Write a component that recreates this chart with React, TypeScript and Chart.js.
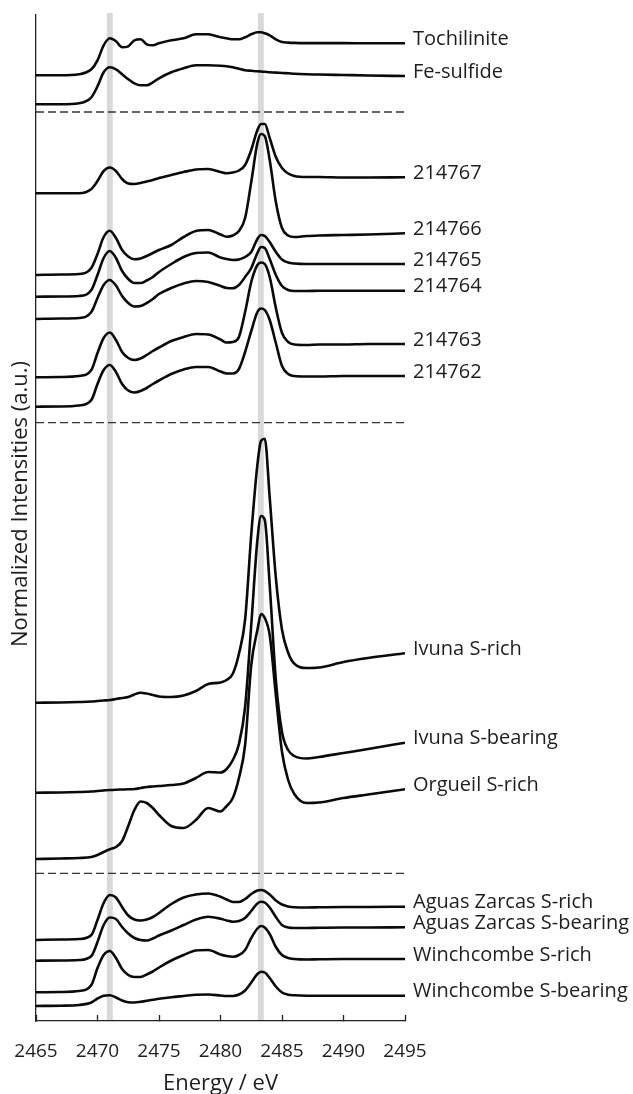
import { useEffect, useRef } from "react";
import { Chart, registerables } from "chart.js";

Chart.register(...registerables);

// Photon energy grid (eV) shared by every spectrum
const energies = [
  2465, 2467, 2468.5, 2469.5, 2470, 2470.5, 2471, 2471.5, 2472, 2472.5, 2473, 2473.5, 2474, 2474.5,
  2475, 2476, 2477, 2478, 2479, 2480, 2480.5, 2481, 2481.5, 2482, 2482.5, 2483, 2483.3, 2483.6,
  2484, 2484.5, 2485, 2485.5, 2486, 2487, 2488, 2490, 2492, 2495,
];

// Normalized intensities (a.u.) relative to each spectrum's own pre-edge baseline
const tochilinite = [0, 0, 0.1, 0.6, 1.5, 3.0, 3.7, 3.4, 2.8, 2.9, 3.5, 3.6, 3.1, 3.0, 3.2, 3.5, 3.7, 4.1, 4.1, 3.8, 3.7, 3.6, 3.6, 3.8, 4.1, 4.3, 4.3, 4.2, 4.0, 3.6, 3.33, 3.27, 3.24, 3.22, 3.22, 3.22, 3.2, 3.2];
const feSulfide = [0, 0, 0.1, 0.7, 1.8, 3.2, 3.7, 3.5, 3.0, 2.5, 2.1, 1.9, 1.9, 2.2, 2.6, 3.2, 3.6, 3.9, 3.9, 3.85, 3.8, 3.7, 3.55, 3.4, 3.35, 3.3, 3.28, 3.25, 3.2, 3.17, 3.13, 3.1, 3.05, 3.0, 2.98, 2.93, 2.88, 2.83];
const s214767 = [0, 0, 0, 0.43, 1.23, 2.23, 2.58, 2.23, 1.43, 0.98, 0.93, 1.03, 1.18, 1.33, 1.53, 1.83, 2.13, 2.38, 2.43, 2.13, 2.0, 2.08, 2.28, 2.83, 4.33, 6.33, 6.93, 6.93, 5.53, 3.63, 2.53, 1.98, 1.73, 1.63, 1.63, 1.58, 1.58, 1.6];
const s214766 = [0, 0.05, 0.1, 0.7, 2.1, 3.8, 4.43, 3.7, 2.5, 1.85, 1.57, 1.65, 1.9, 2.2, 2.5, 3.0, 3.8, 4.4, 4.5, 4.05, 3.83, 3.95, 4.4, 5.7, 9.3, 13.2, 14.1, 13.9, 11.5, 7.3, 4.7, 3.95, 3.8, 3.9, 3.95, 4.0, 4.05, 4.17];
const s214765 = [0, 0.02, 0.07, 0.67, 2.17, 3.87, 4.57, 3.87, 2.57, 1.77, 1.37, 1.37, 1.62, 1.97, 2.47, 3.27, 3.97, 4.37, 4.42, 3.92, 3.77, 3.67, 3.72, 3.97, 4.47, 5.77, 6.17, 6.07, 5.47, 4.47, 3.72, 3.42, 3.32, 3.27, 3.27, 3.27, 3.27, 3.27];
const s214764 = [0, 0.05, 0.1, 0.7, 2.1, 3.4, 3.9, 3.35, 2.3, 1.6, 1.25, 1.3, 1.6, 2.0, 2.5, 3.1, 3.55, 3.8, 3.7, 3.3, 3.1, 3.07, 3.4, 4.2, 5.1, 6.6, 7.2, 7.1, 6.0, 4.4, 3.3, 2.9, 2.8, 2.8, 2.82, 2.83, 2.83, 2.83];
const s214763 = [0, 0.03, 0.13, 0.73, 2.43, 3.93, 4.48, 3.73, 2.53, 1.93, 1.73, 1.88, 2.23, 2.63, 2.98, 3.63, 4.03, 4.33, 4.28, 3.78, 3.48, 3.53, 4.03, 6.53, 9.53, 11.23, 11.48, 11.33, 10.03, 6.93, 4.43, 3.53, 3.28, 3.23, 3.28, 3.28, 3.33, 3.33];
const s214762 = [0, 0.02, 0.12, 0.67, 2.27, 3.67, 4.17, 3.47, 2.27, 1.62, 1.42, 1.57, 1.87, 2.27, 2.62, 3.27, 3.72, 3.97, 3.97, 3.52, 3.32, 3.32, 3.77, 5.47, 7.57, 9.47, 9.82, 9.67, 8.67, 6.37, 4.07, 3.27, 3.07, 3.02, 3.02, 3.07, 3.07, 3.07];
const ivunaRich = [0, 0.02, 0.07, 0.12, 0.17, 0.22, 0.27, 0.37, 0.47, 0.57, 0.82, 1.0, 0.92, 0.77, 0.62, 0.57, 0.72, 1.17, 1.87, 2.02, 2.27, 2.9, 4.9, 8.3, 16.8, 23.8, 26.2, 26.4, 20.5, 12.5, 7.3, 5.0, 3.9, 3.47, 3.52, 4.07, 4.47, 4.94];
const ivunaBearing = [0, 0.02, 0.07, 0.12, 0.17, 0.22, 0.27, 0.3, 0.32, 0.34, 0.37, 0.47, 0.57, 0.62, 0.67, 0.77, 0.92, 1.47, 2.07, 2.02, 2.37, 3.27, 4.87, 8.57, 16.77, 25.27, 27.67, 27.27, 20.77, 11.27, 6.07, 4.27, 3.67, 3.42, 3.57, 3.97, 4.37, 5.0];
const orgueilRich = [0, 0.05, 0.1, 0.2, 0.4, 0.7, 0.97, 1.2, 1.8, 3.3, 4.9, 5.75, 5.6, 5.1, 4.4, 3.3, 3.1, 3.9, 5.1, 4.75, 5.3, 6.1, 8.1, 11.4, 19.4, 22.9, 24.5, 24.1, 22.4, 16.4, 10.7, 7.9, 6.5, 5.6, 5.65, 6.1, 6.45, 6.97];
const aguasRich = [0, 0.05, 0.1, 0.5, 2.0, 3.7, 4.5, 4.25, 3.3, 2.45, 2.05, 1.95, 2.05, 2.3, 2.7, 3.6, 4.25, 4.55, 4.65, 4.33, 4.05, 3.8, 3.8, 4.1, 4.6, 4.95, 5.0, 4.9, 4.55, 3.95, 3.55, 3.35, 3.27, 3.25, 3.27, 3.3, 3.3, 3.33];
const aguasBearing = [0, 0.02, 0.07, 0.47, 1.87, 3.57, 4.32, 4.17, 3.37, 2.72, 2.27, 2.07, 2.02, 2.22, 2.52, 3.02, 3.57, 4.12, 4.4, 4.2, 4.02, 3.9, 3.97, 4.27, 4.97, 5.72, 5.9, 5.82, 5.32, 4.37, 3.57, 3.32, 3.27, 3.27, 3.29, 3.32, 3.32, 3.34];
const winchRich = [0, 0.03, 0.13, 0.73, 2.43, 3.73, 4.13, 3.43, 2.33, 1.73, 1.53, 1.53, 1.78, 2.08, 2.48, 3.18, 3.73, 4.18, 4.23, 3.78, 3.63, 3.56, 3.73, 4.23, 5.43, 6.38, 6.63, 6.48, 5.83, 4.53, 3.73, 3.43, 3.33, 3.28, 3.3, 3.33, 3.33, 3.33];
const winchBearing = [0, 0.03, 0.1, 0.35, 0.75, 1.03, 1.08, 0.85, 0.55, 0.37, 0.35, 0.42, 0.52, 0.62, 0.72, 0.88, 1.0, 1.12, 1.15, 1.05, 1.0, 1.0, 1.15, 1.55, 2.35, 3.2, 3.43, 3.35, 2.8, 1.95, 1.35, 1.13, 1.07, 1.03, 1.03, 1.03, 1.03, 1.03];

const spectrumNames = [
  "Tochilinite", "Fe-sulfide",
  "214767", "214766", "214765", "214764", "214763", "214762",
  "Ivuna S-rich", "Ivuna S-bearing", "Orgueil S-rich",
  "Aguas Zarcas S-rich", "Aguas Zarcas S-bearing", "Winchcombe S-rich", "Winchcombe S-bearing",
];
const spectra = [
  tochilinite, feSulfide,
  s214767, s214766, s214765, s214764, s214763, s214762,
  ivunaRich, ivunaBearing, orgueilRich,
  aguasRich, aguasBearing, winchRich, winchBearing,
];
// Vertical stacking offset of each spectrum (a.u.)
const offsets = [94.57, 91.67, 82.77, 74.6, 72.43, 70.2, 64.37, 61.43, 31.83, 22.83, 16.2, 8.1, 6.03, 2.87, 1.5];

// Dashed separators between the sample groups (a.u.)
const separatorLevels = [90.9, 59.83, 14.77];
// Reference energies marked with grey bands (eV)
const referenceEnergies = [2471.0, 2483.28];

const xTicks = [2465, 2470, 2475, 2480, 2485, 2490, 2495];
const yRange = [0, 100.6];

const FONT = "'Open Sans', 'DejaVu Sans', sans-serif";
const TEXT = "#1e1e1e";

const bandPlugin = {
  id: "referenceBands",
  beforeDatasetsDraw(chart: any) {
    const { ctx, chartArea, scales } = chart;
    ctx.save();
    ctx.fillStyle = "#d9d9d9";
    for (const e of referenceEnergies) {
      const x0 = scales.x.getPixelForValue(e - 0.24);
      const x1 = scales.x.getPixelForValue(e + 0.24);
      ctx.fillRect(x0, chartArea.top - 2, x1 - x0, chartArea.bottom - chartArea.top + 1);
    }
    ctx.restore();
  },
};

const labelPlugin = {
  id: "spectrumLabels",
  afterDatasetsDraw(chart: any) {
    const { ctx, chartArea } = chart;
    ctx.save();
    ctx.font = `20px ${FONT}`;
    ctx.fillStyle = TEXT;
    ctx.textAlign = "left";
    ctx.textBaseline = "middle";
    spectrumNames.forEach((name, i) => {
      const pts = chart.getDatasetMeta(i).data;
      const last = pts[pts.length - 1];
      ctx.fillText(name, chartArea.right + 8, last.y - 4);
    });
    ctx.restore();
  },
};

const yTitlePlugin = {
  id: "yTitle",
  afterDraw(chart: any) {
    const { ctx } = chart;
    ctx.save();
    ctx.translate(20.5, 504);
    ctx.rotate(-Math.PI / 2);
    ctx.font = `22px ${FONT}`;
    ctx.fillStyle = TEXT;
    ctx.textAlign = "center";
    ctx.textBaseline = "middle";
    ctx.fillText("Normalized Intensities (a.u.)", 0, 0);
    ctx.restore();
  },
};

export default function App() {
  const canvasRef = useRef<HTMLCanvasElement>(null);

  useEffect(() => {
    document.body.style.margin = "0";
    const spectrumSets = spectra.map((vals, i) => ({
      label: spectrumNames[i],
      data: energies.map((e, k) => ({ x: e, y: offsets[i] + vals[k] })),
      borderColor: "#0a0a0a",
      borderWidth: 2.6,
      pointRadius: 0,
      cubicInterpolationMode: "monotone" as const,
      fill: false,
    }));
    const separatorSets = separatorLevels.map((lvl) => ({
      label: "separator",
      data: [
        { x: xTicks[0], y: lvl },
        { x: xTicks[xTicks.length - 1], y: lvl },
      ],
      borderColor: "#333",
      borderWidth: 1.3,
      borderDash: [8, 4],
      pointRadius: 0,
      fill: false,
    }));

    const chart = new Chart(canvasRef.current!, {
      type: "line",
      data: { datasets: [...spectrumSets, ...separatorSets] },
      options: {
        animation: false,
        responsive: false,
        devicePixelRatio: 1,
        layout: { padding: { left: 36, right: 228, top: 15, bottom: 0 } },
        plugins: { legend: { display: false }, tooltip: { enabled: false } },
        scales: {
          x: {
            type: "linear",
            position: "bottom",
            min: xTicks[0],
            max: xTicks[xTicks.length - 1],
            afterBuildTicks: (scale: any) => {
              scale.ticks = xTicks.map((v) => ({ value: v }));
            },
            afterFit: (scale: any) => {
              scale.height = 73;
              scale.paddingLeft = 0;
              scale.paddingRight = 0;
            },
            ticks: {
              autoSkip: false,
              maxRotation: 0,
              padding: 25,
              color: TEXT,
              font: { family: FONT, size: 19 },
              callback: (v: any) => String(v),
            },
            grid: {
              display: true,
              drawOnChartArea: false,
              drawTicks: true,
              tickLength: -6,
              tickColor: "#222",
              tickWidth: 1.3,
              color: "#222",
            },
            border: { display: true, color: "#222", width: 1.3 },
            title: {
              display: true,
              text: "Energy / eV",
              color: TEXT,
              font: { family: FONT, size: 22, lineHeight: 0.9 },
              padding: { top: 0, bottom: 0 },
            },
          },
          y: {
            type: "linear",
            min: yRange[0],
            max: yRange[1],
            afterFit: (scale: any) => {
              scale.width = 0;
            },
            ticks: { display: false },
            grid: { display: false },
            border: { display: true, color: "#222", width: 1.3 },
          },
        },
      },
      plugins: [bandPlugin, labelPlugin, yTitlePlugin],
    } as any);

    return () => chart.destroy();
  }, []);

  return (
    <div style={{ width: 633, height: 1094 }}>
      <canvas ref={canvasRef} width={633} height={1094} style={{ display: "block" }} />
    </div>
  );
}
